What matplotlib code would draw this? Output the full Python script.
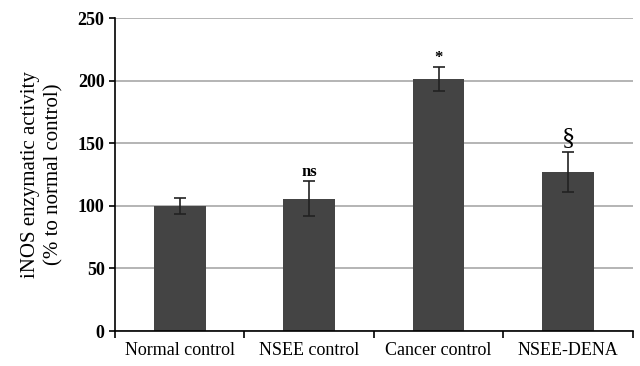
import numpy as np
import matplotlib
matplotlib.use('Agg')
import matplotlib.pyplot as plt

categories = ['Normal control', 'NSEE control', 'Cancer control', 'NSEE-DENA']
values = [100, 105.5, 201.5, 127]
errors = [6.5, 14, 9.5, 16]
marks = ['', 'ns', '*', '§']

plt.rcParams['font.family'] = ['Liberation Serif', 'DejaVu Serif']

fig = plt.figure(figsize=(6.4, 3.66), dpi=100)
ax = fig.add_axes([0.1797, 0.0956, 0.809, 0.855])

x = np.arange(len(categories))
ax.set_axisbelow(True)
ax.yaxis.grid(True, color='#a8a8a8', lw=1.2)
ax.bar(x, values, width=0.4, color='#444444', zorder=2)
ax.errorbar(x, values, yerr=errors, fmt='none', ecolor='#222222',
            elinewidth=1.2, capsize=4, capthick=1.2, zorder=3)

for xi, v, e, m in zip(x, values, errors, marks):
    if not m:
        continue
    if m == '§':
        ax.text(xi, v + e + 2, m, ha='center', va='bottom', fontsize=19)
    else:
        ax.text(xi, v + e + 1, m, ha='center', va='bottom', fontsize=12,
                fontweight='bold')

ax.set_xlim(-0.5, len(categories) - 0.5)
ax.set_ylim(0, 250)
ax.set_yticks([0, 50, 100, 150, 200, 250])
ax.set_xticks(x)
ax.set_xticklabels(categories, fontsize=13)
ax.set_xticks(np.arange(len(categories) + 1) - 0.5, minor=True)
ax.tick_params(axis='x', which='major', length=0, pad=8)
ax.tick_params(axis='x', which='minor', length=5, width=1.2, direction='out')
ax.tick_params(axis='y', length=4, width=1.2, labelsize=13)
for lbl in ax.get_yticklabels():
    lbl.set_fontweight('bold')

for s in ['top', 'right']:
    ax.spines[s].set_visible(False)
for s in ['left', 'bottom']:
    ax.spines[s].set_linewidth(1.2)

ax.set_ylabel('iNOS enzymatic activity\n(% to normal control)', fontsize=15,
              linespacing=1.35, labelpad=10)

fig.savefig('out.png', dpi=100)
